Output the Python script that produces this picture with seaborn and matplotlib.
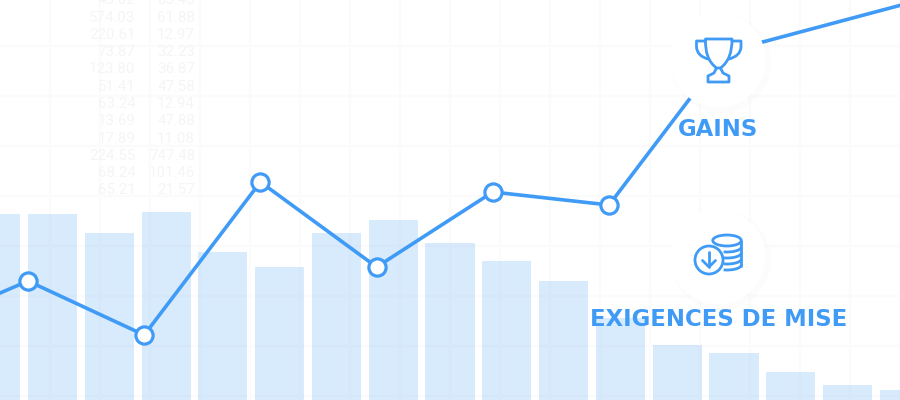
import numpy as np
import pandas as pd
import matplotlib
matplotlib.use('Agg')
import matplotlib.pyplot as plt
from matplotlib.patches import Circle, Ellipse, PathPatch, Arc
from matplotlib.path import Path
import seaborn as sns

BLUE = '#3f9bf5'
GRID = '#fbfbfb'
FAINT = '#f5f5f5'

# bar heights and line values
bar_values = [186, 186, 167, 188, 148, 133, 167, 180, 157, 139, 119, 82, 55, 47, 28, 15, 10]
line_values = [69, 119, 65, 218, 133, 208, 195, 348, 379, 410]
marked_points = [0, 1, 2, 3, 4, 5, 6]

# faint table behind the chart
table_left = ['43.02', '574.03', '220.61', '73.87', '123.80', '51.41', '63.24', '13.69', '17.89', '224.55', '68.24', '65.21']
table_right = ['85.43', '61.88', '12.97', '32.23', '36.87', '47.58', '12.94', '47.88', '11.08', '747.48', '101.46', '21.57']

labels = ['GAINS', 'EXIGENCES DE MISE']

sns.set_style('white')
plt.rcParams['font.family'] = ['DejaVu Sans']

fig = plt.figure(figsize=(9, 4), dpi=100, facecolor='white')


def layer():
    ax = fig.add_axes([0, 0, 1, 1])
    ax.patch.set_alpha(0)
    sns.despine(ax=ax, left=True, bottom=True)
    return ax


# background: grid and table, pixel scale
bg = layer()
bg.set_xlim(0, 900)
bg.set_ylim(400, 0)
bg.set_xticks(np.arange(49.5, 900, 50))
bg.set_yticks(np.arange(45.5, 400, 50))
bg.tick_params(length=0, labelbottom=False, labelleft=False)
bg.grid(True, color=GRID, lw=1.5)
for i in range(len(table_left)):
    y = 0.3 + i * 17.28
    bg.text(135.5, y, table_left[i], ha='right', va='center', family='Roboto', fontsize=10.8, color=FAINT)
    bg.text(195, y, table_right[i], ha='right', va='center', family='Roboto', fontsize=10.8, color=FAINT)

# bars
bar_ax = layer()
df_bars = pd.DataFrame({'pos': range(len(bar_values)), 'value': bar_values})
sns.barplot(data=df_bars, x='pos', y='value', ax=bar_ax, color=BLUE, alpha=0.2,
            width=0.865, saturation=1, linewidth=0)
bar_ax.set_xlim(0.0755, 15.923)
bar_ax.set_ylim(0, 400)
bar_ax.axis('off')

# line
line_ax = layer()
df_line = pd.DataFrame({'pos': range(len(line_values)), 'value': line_values})
sns.lineplot(data=df_line, x='pos', y='value', ax=line_ax, color=BLUE, lw=2.6,
             marker='o', markersize=12.4, markerfacecolor='white', markeredgecolor=BLUE,
             markeredgewidth=2.3, markevery=marked_points)
line_ax.set_xlim(0.759, 8.504)
line_ax.set_ylim(0, 400)
line_ax.axis('off')

# white discs, icons and labels on top
top = layer()
top.set_xlim(0, 900)
top.set_ylim(400, 0)
top.axis('off')

for cx, cy in [(718, 60), (718, 257)]:
    top.add_patch(Circle((cx + 3, cy + 3), 50, fc='black', ec='none', alpha=0.012))
    top.add_patch(Circle((cx, cy), 47.5, fc='white', ec='none'))

icon = dict(fc='none', ec=BLUE, lw=2, capstyle='round', joinstyle='round')

# trophy
cup = Path([(705.5, 39), (732, 39), (732.5, 59), (720.5, 68), (716.5, 68), (704.5, 59), (705.5, 39), (705.5, 39)],
           [Path.MOVETO, Path.LINETO, Path.CURVE3, Path.CURVE3, Path.LINETO, Path.CURVE3, Path.CURVE3, Path.CLOSEPOLY])
top.add_patch(PathPatch(cup, **icon))
left_handle = Path([(705.5, 41), (696.5, 41), (696.5, 47), (697, 56), (708, 59)],
                   [Path.MOVETO, Path.LINETO, Path.LINETO, Path.CURVE3, Path.CURVE3])
right_handle = Path([(732, 41), (741, 41), (741, 47), (740.5, 56), (729, 59)],
                    [Path.MOVETO, Path.LINETO, Path.LINETO, Path.CURVE3, Path.CURVE3])
top.add_patch(PathPatch(left_handle, **icon))
top.add_patch(PathPatch(right_handle, **icon))
stem = Path([(716.5, 68), (714, 73), (708, 76), (708, 82), (729, 82), (729, 76), (723, 73), (720.5, 68)],
            [Path.MOVETO, Path.LINETO, Path.LINETO, Path.LINETO, Path.LINETO, Path.LINETO, Path.LINETO, Path.LINETO])
top.add_patch(PathPatch(stem, **icon))

# coins
top.add_patch(Ellipse((727, 240.5), 28.5, 11, **icon))
top.plot([741.2, 741.2], [240.5, 266], color=BLUE, lw=2)
for y in [247, 253, 259, 265]:
    top.add_patch(Arc((727, y), 28.5, 10, theta1=0, theta2=125, ec=BLUE, lw=2))
top.add_patch(Circle((709, 260), 14, fc='white', ec=BLUE, lw=2))
top.plot([709, 709], [252, 267], color=BLUE, lw=2, solid_capstyle='round')
top.plot([702.5, 709, 715.5], [260.5, 267, 260.5], color=BLUE, lw=2, solid_capstyle='round')

top.text(718, 129, labels[0], ha='center', va='center', fontsize=16.4, fontweight='bold', color=BLUE)
top.text(718.5, 320, labels[1], ha='center', va='center', fontsize=16.4, fontweight='bold', color=BLUE)

fig.savefig('out.png', dpi=100)
